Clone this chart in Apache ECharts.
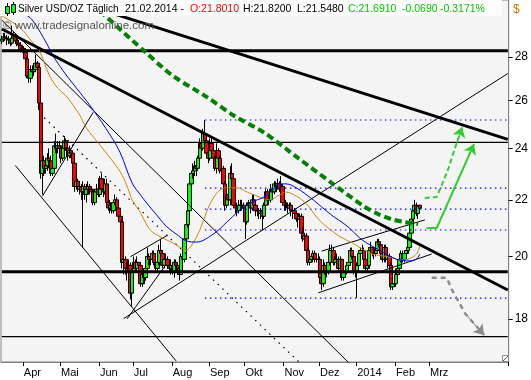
<!DOCTYPE html>
<html><head><meta charset="utf-8">
<script src="https://cdn.jsdelivr.net/npm/echarts@6/dist/echarts.min.js"></script>
<style>html,body{margin:0;padding:0;background:#fff}#c{width:531px;height:380px}</style>
</head><body><div id="c"></div>
<script>
// ---------- DATA ----------
// daily candles [open, close, low, high], trading days from 2013-03-13
const candlesMar = [[28.75,28.85,28.60,29.00],[28.85,28.95,28.70,29.15],[28.95,28.90,28.75,29.15],[28.90,28.85,28.55,29.05],[28.85,28.80,28.60,29.00],[28.80,28.65,28.50,28.90],[28.65,28.90,28.55,29.50],[28.90,29.00,28.70,29.20],[29.00,28.75,28.60,29.10],[28.75,28.65,28.50,28.90],[28.65,28.55,28.40,28.80],[28.55,28.35,28.20,28.70],[28.35,28.40,28.25,28.50]];
const candlesApr = [[28.40,28.20,28.00,28.50],[28.20,27.90,27.70,28.40],[27.90,27.10,27.00,28.00],[27.10,27.00,26.80,27.40],[27.00,27.40,26.80,27.60],[27.40,27.30,27.10,27.60],[27.30,27.40,27.10,27.60],[27.40,27.70,27.30,28.10],[27.70,27.50,27.30,27.80],[27.50,25.90,25.60,27.60],[25.90,23.00,22.80,26.00],[23.00,23.50,22.20,23.80],[23.50,23.20,22.90,23.70],[23.20,23.30,23.00,23.60],[23.30,23.60,23.10,23.80],[23.60,23.50,23.20,24.00],[23.50,23.00,22.90,23.70],[23.00,23.20,22.90,23.50],[23.20,24.10,23.10,24.30],[24.10,24.00,23.80,24.60],[24.00,24.10,23.80,24.30],[24.10,24.00,23.80,24.30]];
const candlesMay = [[24.00,23.60,23.40,24.10],[23.60,24.00,23.50,24.20],[24.00,24.30,23.90,24.50],[24.30,24.00,23.90,24.40],[24.00,23.70,23.50,24.10],[23.70,23.90,23.60,24.10],[23.90,23.80,23.60,24.00],[23.80,23.40,23.30,23.90],[23.40,22.50,22.30,23.50],[22.50,22.70,22.40,22.90],[22.70,22.40,22.30,22.80],[22.40,22.50,22.20,22.70],[22.50,22.30,22.00,22.60],[22.30,22.50,20.30,22.70],[22.50,22.20,22.00,22.60],[22.20,22.40,21.90,22.60],[22.40,22.50,22.20,22.70],[22.50,22.40,22.20,22.60],[22.40,22.30,22.20,22.50],[22.30,21.90,21.80,22.40],[21.90,22.30,21.80,22.40],[22.30,22.40,22.10,22.60],[22.40,22.20,22.10,22.50]];
const candlesJun = [[22.20,22.80,22.10,22.90],[22.80,22.40,22.20,23.00],[22.40,22.30,22.10,22.60],[22.30,22.60,22.20,22.80],[22.60,21.90,21.80,22.80],[21.90,21.70,21.60,22.00],[21.70,21.80,21.50,22.00],[21.80,21.60,21.50,21.90],[21.60,21.90,21.50,22.00],[21.90,22.00,21.80,22.20],[22.00,21.70,21.60,22.10],[21.70,21.40,21.30,21.80],[21.40,21.20,20.90,21.50],[21.20,19.80,19.60,21.30],[19.80,19.90,19.40,20.10],[19.90,19.60,19.40,20.00],[19.60,19.50,19.20,19.80],[19.50,19.70,19.40,19.90],[19.70,18.80,18.60,19.80],[18.80,19.50,18.40,19.60]];
const candlesJul = [[19.50,19.80,19.40,20.00],[19.80,19.60,19.50,19.90],[19.60,19.80,19.50,20.00],[19.80,19.70,19.60,19.80],[19.70,19.10,19.00,19.80],[19.10,19.40,19.00,19.50],[19.40,19.30,19.10,19.50],[19.30,19.60,19.20,19.70],[19.60,20.00,19.50,20.30],[20.00,19.90,19.70,20.10],[19.90,19.90,19.70,20.00],[19.90,20.10,19.80,20.20],[20.10,19.80,19.70,20.20],[19.80,19.60,19.50,19.90],[19.60,19.80,19.50,19.90],[19.80,20.20,19.70,20.40],[20.20,20.10,19.90,20.60],[20.10,19.70,19.60,20.20],[19.70,19.90,19.60,20.00],[19.90,19.90,19.70,20.10],[19.90,19.70,19.60,20.00],[19.70,19.60,19.50,19.80],[19.60,19.70,19.40,19.90]];
const candlesAug = [[19.70,19.50,19.40,19.80],[19.50,19.80,19.30,19.90],[19.80,19.70,19.50,19.90],[19.70,19.60,19.40,19.80],[19.60,19.40,19.20,19.70],[19.40,20.00,19.40,20.10],[20.00,19.90,19.70,20.10],[19.90,20.60,19.80,20.70],[20.60,21.10,20.40,21.30],[21.10,21.60,21.00,21.80],[21.60,22.60,21.50,22.80],[22.60,23.00,22.40,23.10],[23.00,23.10,22.80,23.40],[23.10,23.30,22.90,23.50],[23.30,23.20,22.90,23.50],[23.20,23.60,23.10,23.70],[23.60,24.20,23.50,24.40],[24.20,24.00,23.90,24.60],[24.00,24.60,23.90,24.80],[24.60,24.30,24.00,25.17],[24.30,23.80,23.60,24.50],[23.80,23.60,23.40,24.00]];
const candlesSep = [[23.60,24.20,23.50,24.40],[24.20,23.90,23.70,24.40],[23.90,23.60,23.50,24.10],[23.60,23.20,23.10,23.70],[23.20,23.90,23.00,24.20],[23.90,23.60,23.40,24.00],[23.60,23.10,23.00,23.70],[23.10,23.20,22.90,23.40],[23.20,22.60,22.50,23.30],[22.60,21.80,21.60,22.70],[21.80,22.20,21.70,22.40],[22.20,22.00,21.90,22.30],[22.00,23.00,21.80,23.30],[23.00,22.80,22.60,23.40],[22.80,21.80,21.70,22.90],[21.80,21.70,21.50,22.00],[21.70,21.60,21.40,21.90],[21.60,21.80,21.50,22.00],[21.80,21.80,21.60,22.00],[21.80,21.80,21.60,22.00],[21.80,21.70,21.50,21.90]];
const candlesOct = [[21.70,21.20,20.60,21.80],[21.20,21.80,21.10,21.90],[21.80,21.90,21.60,22.00],[21.90,21.70,21.50,22.00],[21.70,22.00,21.60,22.20],[22.00,21.80,21.70,22.20],[21.80,21.60,21.40,21.90],[21.60,21.60,21.40,21.80],[21.60,21.50,21.30,21.70],[21.50,21.60,21.30,21.70],[21.60,21.40,20.90,21.70],[21.40,21.80,21.30,21.90],[21.80,22.30,21.70,22.40],[22.30,22.00,21.90,22.40],[22.00,22.00,21.80,22.20],[22.00,22.40,21.90,22.60],[22.40,22.30,22.10,22.50],[22.30,22.60,22.20,22.70],[22.60,22.50,22.30,22.70],[22.50,22.60,22.40,22.80],[22.60,22.40,22.30,22.70],[22.40,22.50,22.20,22.90],[22.50,21.90,21.80,22.60]];
const candlesNov = [[21.90,21.80,21.60,22.00],[21.80,21.80,21.60,22.00],[21.80,21.70,21.50,21.90],[21.70,21.80,21.60,21.90],[21.80,21.60,21.40,21.90],[21.60,21.60,21.30,21.70],[21.60,21.50,21.40,21.70],[21.50,21.30,21.20,21.60],[21.30,21.30,21.00,21.50],[21.30,21.40,21.20,21.50],[21.40,20.80,20.70,21.50],[20.80,20.60,20.50,21.00],[20.60,20.70,20.40,20.80],[20.70,20.20,20.10,20.80],[20.20,19.80,19.70,20.30],[19.80,19.90,19.70,20.00],[19.90,20.00,19.80,20.10],[20.00,20.10,19.80,20.20],[20.10,19.90,19.80,20.20],[19.90,19.90,19.80,20.00],[19.90,19.90,19.70,20.10]];
const candlesDec = [[19.90,19.30,19.20,20.00],[19.30,19.10,18.90,19.40],[19.10,19.70,19.00,19.90],[19.70,19.50,19.40,19.80],[19.50,19.50,19.30,19.80],[19.50,19.80,19.40,20.00],[19.80,20.20,19.70,20.40],[20.20,20.20,20.00,20.40],[20.20,19.80,19.70,20.30],[19.80,19.90,19.70,20.00],[19.90,19.90,19.80,20.10],[19.90,19.60,19.50,20.00],[19.60,19.90,19.40,20.00],[19.90,19.30,19.20,19.90],[19.30,19.50,19.20,19.60],[19.50,19.50,19.40,19.60],[19.50,19.70,19.40,19.80],[19.70,19.80,19.60,19.80],[19.80,20.20,19.70,20.30],[20.20,20.00,19.90,20.30],[20.00,19.50,19.40,20.10],[19.50,19.50,19.30,19.60]];
const candlesJan = [[19.50,19.70,18.65,19.80],[19.70,20.10,19.60,20.20],[20.10,20.20,19.90,20.30],[20.20,20.20,19.90,20.40],[20.20,19.90,19.80,20.30],[19.90,19.60,19.50,20.00],[19.60,19.70,19.50,19.90],[19.70,20.20,19.60,20.30],[20.20,20.30,20.10,20.50],[20.30,20.10,20.00,20.30],[20.10,20.10,19.90,20.30],[20.10,20.20,20.00,20.40],[20.20,20.50,20.10,20.60],[20.50,20.40,20.30,20.60],[20.40,20.10,19.90,20.50],[20.10,19.90,19.80,20.20],[19.90,20.30,19.80,20.40],[20.30,19.90,19.80,20.40],[19.90,20.00,19.60,20.10],[20.00,19.70,19.60,20.10],[19.70,19.00,18.90,19.80],[19.00,19.10,18.90,19.30],[19.10,19.10,19.00,19.30]];
const candlesFeb = [[19.10,19.40,19.00,19.60],[19.40,19.60,19.30,19.70],[19.60,19.90,19.50,20.00],[19.90,20.10,19.80,20.20],[20.10,19.90,19.80,20.20],[19.90,20.10,19.80,20.20],[20.10,20.20,20.00,20.30],[20.20,20.30,20.10,20.40],[20.30,20.80,20.20,20.90],[20.80,21.30,20.70,21.40],[21.30,21.60,21.20,21.70],[21.60,21.80,21.50,22.00],[21.80,21.50,21.40,21.90],[21.50,21.76,21.30,21.80],[21.801,21.691,21.548,21.82]];

// moving averages [date, price]
const maOrange = [['2013-03-13',29.99],['2013-03-28',29.39],['2013-04-08',28.70],['2013-04-12',28.32],['2013-04-22',27.15],['2013-04-29',26.56],['2013-05-06',26.21],['2013-05-16',25.38],['2013-05-22',24.83],['2013-06-03',24.13],['2013-06-11',23.61],['2013-06-19',23.06],['2013-06-25',22.52],['2013-06-28',22.00],['2013-07-05',21.52],['2013-07-11',21.05],['2013-07-16',20.84],['2013-07-24',20.63],['2013-08-01',20.46],['2013-08-08',20.29],['2013-08-13',20.22],['2013-08-19',20.46],['2013-08-23',20.91],['2013-08-29',21.56],['2013-09-04',22.07],['2013-09-10',22.37],['2013-09-16',22.45],['2013-09-24',22.45],['2013-10-02',22.29],['2013-10-11',22.11],['2013-10-21',22.00],['2013-10-29',22.18],['2013-11-04',22.29],['2013-11-12',22.14],['2013-11-20',21.85],['2013-11-28',21.37],['2013-12-06',21.02],['2013-12-18',20.67],['2013-12-27',20.46],['2014-01-06',20.25],['2014-01-14',20.08],['2014-01-28',19.98],['2014-02-05',19.88],['2014-02-12',19.91],['2014-02-19',20.08],['2014-02-21',20.36]];
const maBlue = [['2013-03-13',31.22],['2013-03-29',30.19],['2013-04-08',29.79],['2013-04-19',28.56],['2013-04-24',28.08],['2013-05-06',27.15],['2013-05-16',26.38],['2013-05-28',25.60],['2013-06-11',24.54],['2013-06-19',23.81],['2013-06-28',22.63],['2013-07-05',22.18],['2013-07-11',21.85],['2013-07-19',21.41],['2013-07-26',21.05],['2013-08-05',20.77],['2013-08-13',20.53],['2013-08-21',20.49],['2013-09-04',20.77],['2013-09-16',21.19],['2013-09-25',21.59],['2013-10-07',21.92],['2013-10-16',22.11],['2013-10-23',22.37],['2013-10-29',22.60],['2013-11-04',22.60],['2013-11-12',22.45],['2013-11-26',22.00],['2013-12-10',21.48],['2013-12-24',21.05],['2014-01-06',20.56],['2014-01-20',20.22],['2014-02-03',19.91],['2014-02-13',19.85],['2014-02-19',19.91],['2014-02-21',20.08]];

// drawings
const thickTrendA = [['2013-06-03',30.33],['2014-05-06',24.36]];
const thickTrendB = [['2013-03-13',29.34],['2014-05-06',18.90]];
const thickLevels = [28.28, 19.49];
const thinLevels = [24.24, 17.47];
const fibStart = '2013-08-28';
const fibLevels = [25.17, 22.44, 21.66, 20.91, 18.64];
const thinTrends = [
  [['2013-03-13',29.78],['2013-12-25',16.72]],
  [['2013-03-25',23.31],['2013-08-05',16.77]],
  [['2013-04-16',22.14],['2013-05-28',25.50]],
  [['2013-06-21',18.01],['2014-05-06',27.22]],
  [['2013-06-25',18.00],['2013-07-25',19.65]],
  [['2013-06-27',19.99],['2013-07-29',20.73]],
  [['2013-12-03',20.18],['2014-02-26',21.27]],
  [['2013-11-29',18.81],['2014-03-04',20.08]]
];
const dottedTrend = [['2013-04-17',25.27],['2013-11-14',16.72]];
const greenArc = [['2013-06-03',30.24],['2013-07-09',28.28],['2013-08-01',27.12],['2013-08-29',26.17],['2013-09-20',25.36],['2013-10-16',24.64],['2013-11-13',23.61],['2013-12-11',22.63],['2014-01-07',21.76],['2014-01-17',21.49],['2014-01-29',21.30],['2014-02-10',21.19],['2014-02-20',21.12]];
const arrowUpSolid = [['2014-02-27',20.98],['2014-03-07',20.98],['2014-04-08',24.17]];
const arrowUpDashed = [['2014-02-26',22.07],['2014-03-07',22.11],['2014-03-12',22.56],['2014-03-18',23.21],['2014-03-24',24.05],['2014-03-28',24.87]];
const arrowDown = [['2014-03-04',19.29],['2014-03-17',19.29],['2014-03-20',18.90],['2014-04-01',18.15],['2014-04-16',17.52]];

const yTicks = [18, 20, 22, 24, 26, 28];
const priceTop = 30.81, priceBottom = 16.74;
const monthNames = ['Jan','Feb','Mrz','Apr','Mai','Jun','Jul','Aug','Sep','Okt','Nov','Dez'];
const lastLabelDate = '2014-03-03';
const dayCount = 300;

// ---------- BUILD ----------
const dates = [];
(function(){ const d = new Date(Date.UTC(2013,2,13)); while (dates.length < dayCount) { const w = d.getUTCDay(); if (w !== 0 && w !== 6) dates.push(d.toISOString().slice(0,10)); d.setUTCDate(d.getUTCDate()+1); } })();
const candles = [].concat(candlesMar,candlesApr,candlesMay,candlesJun,candlesJul,candlesAug,candlesSep,candlesOct,candlesNov,candlesDec,candlesJan,candlesFeb);
const L = Math.log;
const isMonthStart = (i) => i > 0 && dates[i] <= lastLabelDate && dates[i].slice(5,7) !== dates[i-1].slice(5,7);
const first = dates[0], last = dates[dates.length-1];

function lineSeries(pts, color, width, type, smooth, arrow) {
  const s = { type:'line', data: pts.map(p => [p[0], L(p[1])]), symbol:'none', showSymbol:false, smooth: smooth || false,
    lineStyle:{ color, width, type: type || 'solid', cap:'butt' }, silent:true, animation:false, z:3, emphasis:{disabled:true} };
  if (arrow) {
    const a = pts[pts.length-2], b = pts[pts.length-1];
    s.markLine = { silent:true, animation:false, symbol:['none','arrow'], symbolSize:10, precision:6, label:{show:false},
      lineStyle:{ color, width:1, type:'solid', opacity:1 }, emphasis:{disabled:true},
      data:[[{coord:[a[0], L(a[1])]}, {coord:[b[0], L(b[1])]}]] };
  }
  return s;
}

const series = [];
series.push({ type:'candlestick', data: candles.map(r => r.map(L)), barWidth:4, silent:true, animation:false,
  itemStyle:{ color:'#00ff00', color0:'#ff0000', borderColor:'#000', borderColor0:'#000', borderWidth:1 }, z:2 });
fibLevels.forEach(v => series.push(lineSeries([[fibStart, v],[last, v]], '#0000ff', 1.2, [1.5,3.5])));
thinLevels.forEach(v => series.push(lineSeries([[first, v],[last, v]], '#000', 1.2)));
thickLevels.forEach(v => series.push(lineSeries([[first, v],[last, v]], '#000', 3)));
thinTrends.forEach(t => series.push(lineSeries(t, '#000', 1)));
series.push(lineSeries(dottedTrend, '#000', 1.3, [1.5,5]));
series.push(lineSeries(maOrange, '#c88a10', 1, 'solid', 0.35));
series.push(lineSeries(maBlue, '#0000ff', 1, 'solid', 0.35));
series.push(lineSeries(thickTrendA, '#000', 3));
series.push(lineSeries(thickTrendB, '#000', 3));
series.push(lineSeries(greenArc, '#008000', 4, [7,4], 0.3));
series.push(lineSeries(arrowUpSolid, '#33cc33', 2, 'solid', false, true));
series.push(lineSeries(arrowUpDashed, '#33cc33', 2, [5,3], false, true));
series.push(lineSeries(arrowDown, '#8c8c8c', 2.5, [5,4], false, true));

const lc = candles[candles.length-1];
const font = 'Liberation Sans, Arial, sans-serif';
const hdr = (x, text, color, size) => ({ type:'text', x, y:9, z:101, style:{ text, fill:color, font: (size||10.5) + 'px ' + font, verticalAlign:'middle' } });

const option = {
  animation:false,
  backgroundColor:'#ffffff',
  grid:{ left:1, right:22, top:0, bottom:18, show:true, backgroundColor:'#f4f4f4', borderColor:'#808080', borderWidth:1 },
  xAxis:{ type:'category', data:dates, boundaryGap:true,
    axisLine:{ show:true, lineStyle:{ color:'#808080' } },
    axisTick:{ show:true, interval:(i)=>isMonthStart(i), length:4, lineStyle:{ color:'#000' } },
    axisLabel:{ interval:(i)=>isMonthStart(i), align:'left', margin:5, fontSize:11, fontFamily:font, color:'#000',
      formatter:(v)=>{ const m = +v.slice(5,7); return m === 1 ? v.slice(0,4) : monthNames[m-1]; } },
    splitLine:{ show:false } },
  yAxis:{ type:'value', position:'right', min:L(priceBottom), max:L(priceTop),
    axisLine:{ show:true, lineStyle:{ color:'#808080' } },
    axisTick:{ show:true, customValues: yTicks.map(L), length:4, lineStyle:{ color:'#000' } },
    axisLabel:{ customValues: yTicks.map(L), margin:6, fontSize:12, fontFamily:font, color:'#000',
      formatter:(v)=>String(Math.round(Math.exp(v))) },
    splitLine:{ show:false } },
  series,
  graphic:[
    { type:'rect', z:100, shape:{ x:0, y:0, width:502, height:16 }, style:{ fill:'#fcfcfc' } },
    { type:'line', z:101, shape:{ x1:7.5, y1:3, x2:7.5, y2:16 }, style:{ stroke:'#000', lineWidth:1 } },
    { type:'rect', z:102, shape:{ x:5.5, y:6.5, width:4, height:7 }, style:{ fill:'#00ff00', stroke:'#000', lineWidth:1 } },
    { type:'line', z:101, shape:{ x1:13.5, y1:2, x2:13.5, y2:15 }, style:{ stroke:'#000', lineWidth:1 } },
    { type:'rect', z:102, shape:{ x:11.5, y:4.5, width:4, height:8 }, style:{ fill:'#00ff00', stroke:'#000', lineWidth:1 } },
    hdr(18, 'Silver USD/OZ Täglich', '#000', 10),
    hdr(125, '21.02.2014 -', '#000'),
    hdr(190, 'O:' + lc[0].toFixed(4), '#ff0000'),
    hdr(243, 'H:' + lc[3].toFixed(4), '#000'),
    hdr(297, 'L:' + lc[2].toFixed(4), '#000'),
    hdr(348, 'C:' + lc[1].toFixed(4), '#00c800'),
    hdr(402, '-0.0690', '#00c800'),
    hdr(440, '-0.3171%', '#00c800'),
    { type:'text', x:3, y:26, z:101, style:{ text:'© www.tradesignalonline.com', fill:'#555', font:'11.5px ' + font, verticalAlign:'middle' } },
    { type:'text', x:513, y:10, z:101, style:{ text:'$', fill:'#c08000', font:'12px ' + font, verticalAlign:'middle' } },
    { type:'rect', z:101, shape:{ x:502.5, y:355.5, width:6, height:6 }, style:{ fill:'#fff', stroke:'#909090', lineWidth:1 } },
    { type:'line', z:102, shape:{ x1:503, y1:361, x2:508, y2:356 }, style:{ stroke:'#606060', lineWidth:1 } }
  ]
};
const chart = echarts.init(document.getElementById('c'));
chart.setOption(option);
</script></body></html>
